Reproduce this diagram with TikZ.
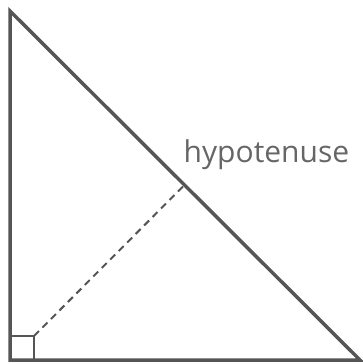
\documentclass[tikz,border=0pt]{standalone}
\usepackage{fontspec}
\setmainfont{Open Sans}
\usepackage{xcolor}
\usetikzlibrary{calc}
\definecolor{linegray}{HTML}{555555}
\definecolor{textgray}{HTML}{666666}

\begin{document}
\begin{tikzpicture}[x=1pt,y=1pt]
    \useasboundingbox (0,0) rectangle (362,-364);
    \coordinate (A) at (10,-11);
    \coordinate (B) at (10,-360);
    \coordinate (C) at (360,-360);
    \coordinate (S) at (34,-336);
    \coordinate (F) at ($(A)!(B)!(C)$);
    \draw[linegray,line width=2pt] (B) rectangle (S);
    \draw[linegray,line width=2pt,dash pattern=on 7pt off 5pt] (S) -- (F);
    \draw[linegray,line width=3.5pt,line join=miter] (A) -- (B) -- (C) -- cycle;
    \node[anchor=base west,inner sep=0pt,text=textgray,font=\fontsize{30}{36}\selectfont] (H) at (183.5,-162) {hypotenuse};
\end{tikzpicture}
\end{document}
